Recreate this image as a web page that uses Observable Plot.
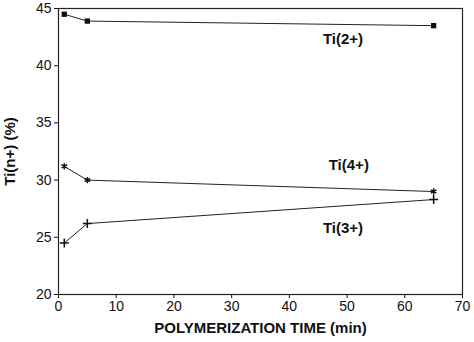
<!DOCTYPE html>
<html>
<head>
<meta charset="utf-8">
<script src="https://cdn.jsdelivr.net/npm/d3@7"></script>
<script src="https://cdn.jsdelivr.net/npm/@observablehq/plot@0.6"></script>
<style>
  html, body { margin: 0; padding: 0; background: #fff; }
  svg { display: block; }
</style>
</head>
<body>
<div id="chart"></div>
<script>
// Polymerization time (min)
const times = [1, 5, 65];
// Ti oxidation-state fractions (%)
const ti2 = [44.5, 43.9, 43.5];
const ti4 = [31.2, 30.0, 29.0];
const ti3 = [24.5, 26.2, 28.3];
const seriesNames = ["Ti(2+)", "Ti(4+)", "Ti(3+)"];
// Label anchor points (time, %)
const labelX = [49.3, 50.3, 49.3];
const labelY = [42.3, 31.3, 25.8];
const xTicks = [0, 10, 20, 30, 40, 50, 60, 70];
const yTicks = [20, 25, 30, 35, 40, 45];

const values = [ti2, ti4, ti3];
const symbols = ["square", "asterisk", "plus"];
const rows = seriesNames.flatMap((s, i) =>
  times.map((t, j) => ({series: s, t, v: values[i][j], symbol: symbols[i]})));
const labels = seriesNames.map((s, i) => ({text: s, x: labelX[i], y: labelY[i]}));

const chart = Plot.plot({
  width: 474,
  height: 342,
  marginLeft: 58,
  marginRight: 12,
  marginTop: 8,
  marginBottom: 48,
  style: {fontFamily: "Liberation Sans, Arial, sans-serif", fontSize: "14px", color: "#111", background: "#fff"},
  x: {domain: [0, 70], ticks: xTicks},
  y: {domain: [20, 45], ticks: yTicks},
  symbol: {domain: symbols, range: symbols},
  marks: [
    Plot.frame({stroke: "#222", strokeWidth: 1.2}),
    Plot.axisX({ticks: xTicks, tickSize: 4, tickPadding: 3, fontSize: 14,
      label: "POLYMERIZATION TIME (min)", labelAnchor: "center", labelOffset: 38,
      labelArrow: "none"}),
    Plot.axisY({ticks: yTicks, tickSize: 4, tickPadding: 3, fontSize: 14,
      label: "Ti(n+) (%)", labelAnchor: "center", labelOffset: 54,
      labelArrow: "none"}),
    Plot.line(rows, {x: "t", y: "v", z: "series", stroke: "#222", strokeWidth: 1}),
    Plot.dot(rows.filter(d => d.symbol === "square"), {x: "t", y: "v", symbol: "square", fill: "#111", r: 3}),
    Plot.dot(rows.filter(d => d.symbol !== "square"), {x: "t", y: "v", symbol: "symbol", stroke: "#111", strokeWidth: 1.5, r: 3}),
    Plot.text(labels, {x: "x", y: "y", text: "text", fontSize: 15, fontWeight: "bold", fill: "#111", textAnchor: "middle"})
  ]
});

// Bold axis titles
d3.select(chart).selectAll("[aria-label='x-axis label'] text, [aria-label='y-axis label'] text")
  .style("font-weight", "bold").style("font-size", "15px");

document.getElementById("chart").appendChild(chart);
</script>
</body>
</html>
